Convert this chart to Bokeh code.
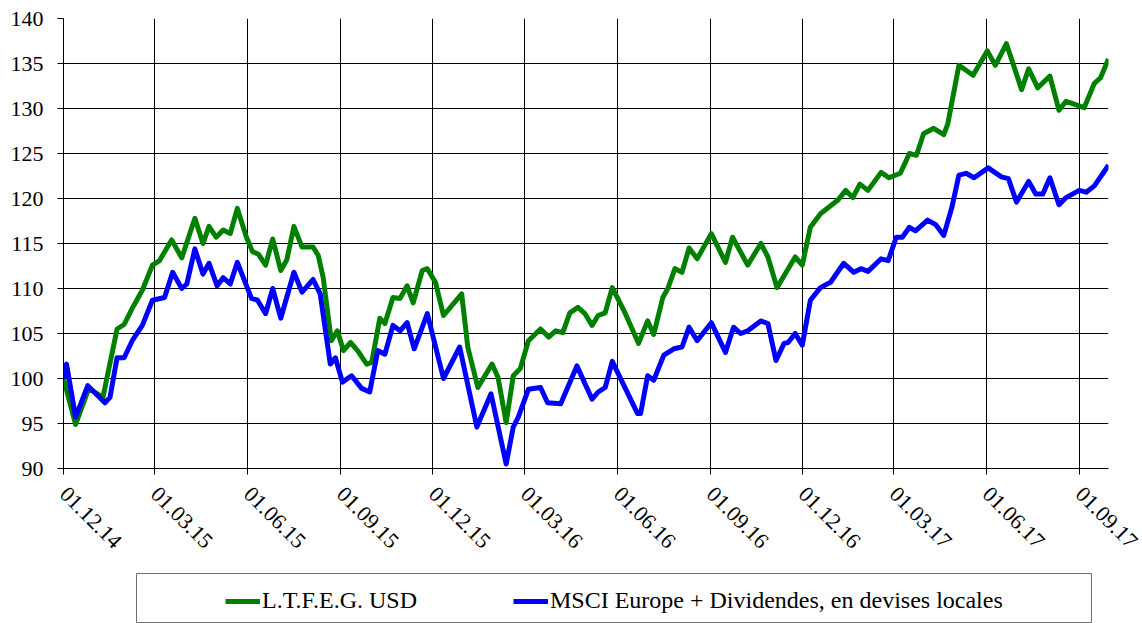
import math
import pandas as pd
from bokeh.plotting import figure
from bokeh.layouts import column, row
from bokeh.models import (FixedTicker, DatetimeTickFormatter, Legend, LegendItem, Range1d, Spacer)
from bokeh.embed import file_html
from bokeh.resources import INLINE

start = pd.Timestamp("2014-12-01")

ltfeg_days = [0, 12, 25, 39, 53, 60, 68, 78, 88, 95, 107, 117, 130, 138, 144, 151, 158, 165, 172, 181,
              187, 193, 200, 207, 215, 221, 228, 236, 247, 252, 257, 265, 271, 277, 284, 291, 300, 305, 313, 318,
              326, 333, 340, 346, 355, 360, 368, 376, 394, 400, 410, 424, 430, 438, 445, 452, 460, 472, 480, 487,
              494, 501, 509, 516, 523, 529, 536, 543, 556, 569, 578, 584, 593, 598, 605, 612, 619, 627, 641, 655,
              662, 677, 690, 697, 706, 724, 731, 739, 749, 766, 774, 781, 788, 796, 809, 817, 828, 837, 844, 851,
              861, 871, 875, 886, 900, 914, 922, 933, 948, 955, 964, 976, 985, 992, 1002, 1010, 1020, 1026, 1034]
ltfeg_values = [100.0, 94.9, 98.9, 97.9, 105.5, 106.0, 107.8, 109.8, 112.6, 113.1,
                115.4, 113.4, 117.8, 115.0, 116.9, 115.7, 116.5, 116.1, 118.9, 115.7,
                114.1, 113.8, 112.6, 115.5, 112.0, 113.2, 116.9, 114.6, 114.6, 113.7,
                111.2, 104.2, 105.3, 103.1, 104.0, 103.1, 101.6, 101.8, 106.7, 106.1,
                109.0, 108.9, 110.3, 108.4, 112.0, 112.2, 110.7, 107.0, 109.4, 103.5,
                99.0, 101.6, 100.1, 95.1, 100.3, 101.1, 104.2, 105.5, 104.6, 105.3,
                105.1, 107.3, 107.9, 107.2, 105.9, 107.0, 107.3, 110.1, 107.2, 103.9,
                106.4, 104.9, 109.0, 110.0, 112.2, 111.8, 114.5, 113.3, 116.1, 112.9,
                115.7, 112.6, 115.0, 113.5, 110.1, 113.5, 112.6, 116.8, 118.3, 119.8,
                120.9, 120.1, 121.6, 120.9, 122.9, 122.3, 122.8, 125.0, 124.8, 127.2,
                127.8, 127.1, 128.3, 134.8, 133.7, 136.4, 134.8, 137.2, 132.1, 134.4,
                132.3, 133.6, 129.8, 130.8, 130.4, 130.1, 132.8, 133.4, 135.5]

msci_days = [0, 3, 12, 24, 41, 46, 53, 60, 68, 78, 88, 100, 108, 117, 122, 130, 138, 144, 152, 158,
             165, 172, 186, 192, 200, 207, 215, 228, 236, 247, 254, 264, 269, 276, 285, 295, 303, 311, 318, 326,
             333, 340, 347, 360, 376, 392, 409, 423, 438, 445, 450, 460, 472, 479, 492, 508, 523, 529, 536, 543,
             568, 571, 578, 584, 594, 604, 612, 619, 627, 641, 655, 663, 670, 677, 690, 697, 705, 713, 717, 724,
             731, 739, 749, 759, 772, 782, 789, 796, 809, 816, 824, 830, 837, 843, 855, 863, 871, 879, 886, 893,
             901, 915, 928, 935, 943, 955, 962, 969, 976, 985, 992, 1005, 1012, 1020, 1034]
msci_values = [100.0, 101.6, 95.7, 99.2, 97.3, 97.9, 102.3, 102.3, 104.2, 105.9,
               108.7, 109.0, 111.8, 110.0, 110.5, 114.4, 111.6, 112.8, 110.3, 111.2,
               110.5, 112.9, 108.9, 108.7, 107.2, 110.0, 106.7, 111.8, 109.6, 111.0,
               109.4, 101.6, 102.3, 99.6, 100.3, 98.9, 98.5, 103.1, 102.7, 105.9,
               105.3, 106.2, 103.3, 107.2, 100.0, 103.5, 94.6, 98.3, 90.5, 94.6,
               95.7, 98.8, 99.0, 97.3, 97.2, 101.4, 97.7, 98.5, 99.0, 101.9,
               96.1, 96.1, 100.3, 99.8, 102.6, 103.3, 103.5, 105.7, 104.2, 106.2,
               102.9, 105.7, 105.0, 105.3, 106.4, 106.1, 102.0, 103.9, 104.0, 105.0,
               103.7, 108.7, 110.1, 110.7, 112.8, 111.8, 112.2, 111.9, 113.3, 113.1,
               115.7, 115.7, 116.8, 116.4, 117.6, 117.1, 115.9, 119.0, 122.6, 122.8,
               122.3, 123.4, 122.4, 122.2, 119.6, 121.9, 120.5, 120.5, 122.3, 119.3,
               120.1, 120.9, 120.7, 121.4, 123.7]

tick_labels = ["01.12.14", "01.03.15", "01.06.15", "01.09.15", "01.12.15", "01.03.16",
               "01.06.16", "01.09.16", "01.12.16", "01.03.17", "01.06.17", "01.09.17"]
y_ticks = [90, 95, 100, 105, 110, 115, 120, 125, 130, 135, 140]

series_names = ["L.T.F.E.G. USD", "MSCI Europe + Dividendes, en devises locales"]
series_colors = ["#008000", "#0000FF"]

ltfeg_dates = start + pd.to_timedelta(ltfeg_days, unit="D")
msci_dates = start + pd.to_timedelta(msci_days, unit="D")
tick_dates = pd.to_datetime(tick_labels, format="%d.%m.%y")
tick_ms = [int(t.value // 10**6) for t in tick_dates]

FONT = "'Liberation Serif', serif"

# ---------------- main chart ----------------
p = figure(width=1142, height=573, x_axis_type="datetime",
           x_range=Range1d(ltfeg_dates[0], ltfeg_dates[-1]), y_range=Range1d(90, 140),
           output_backend="svg", toolbar_location=None,
           min_border_left=63, min_border_right=34, min_border_top=18, min_border_bottom=105)
p.outline_line_color = None
p.background_fill_color = "white"
p.border_fill_color = "white"

xt = FixedTicker(ticks=tick_ms)
yt = FixedTicker(ticks=y_ticks)
p.xaxis.ticker = xt
p.yaxis.ticker = yt
p.xgrid.ticker = xt
p.ygrid.ticker = yt
for g in (p.xgrid, p.ygrid):
    g.grid_line_color = "black"
    g.grid_line_width = 1

fmt = "%d.%m.%y"
p.xaxis.formatter = DatetimeTickFormatter(days=fmt, months=fmt, years=fmt, hours=fmt,
                                          hourmin=fmt, minutes=fmt, minsec=fmt, seconds=fmt)
p.xaxis.major_label_orientation = -math.pi / 4

for ax in (p.xaxis, p.yaxis):
    ax.axis_line_color = "black"
    ax.major_tick_line_color = "black"
    ax.major_tick_in = 0
    ax.major_tick_out = 6
    ax.minor_tick_line_color = None
    ax.major_label_text_font = FONT
    ax.major_label_text_font_size = "22px"
    ax.major_label_text_color = "black"
p.yaxis.major_label_standoff = 14
p.xaxis.major_label_standoff = 16

p.line(ltfeg_dates, ltfeg_values, line_color=series_colors[0], line_width=5, line_join="round")
p.line(msci_dates, msci_values, line_color=series_colors[1], line_width=5, line_join="round")

# ---------------- legend box (separate panel below the chart) ----------------
lg = figure(width=956, height=50, x_range=Range1d(0, 1), y_range=Range1d(0, 1),
            output_backend="svg", toolbar_location=None,
            x_axis_location=None, y_axis_location=None,
            min_border=0, min_border_left=0, min_border_right=0, min_border_top=0, min_border_bottom=0)
lg.xgrid.visible = False
lg.ygrid.visible = False
lg.outline_line_color = "#707070"
lg.outline_line_width = 1
lg.background_fill_color = "white"
lg.border_fill_color = "white"

# same series, drawn outside this panel's view; they only supply the legend samples
lr_g = lg.line(ltfeg_dates, ltfeg_values, line_color=series_colors[0], line_width=5)
lr_b = lg.line(msci_dates, msci_values, line_color=series_colors[1], line_width=5)

legend = Legend(items=[LegendItem(label=series_names[0], renderers=[lr_g]),
                       LegendItem(label=series_names[1], renderers=[lr_b])],
                orientation="horizontal", location=(89, 9), padding=0, spacing=0,
                glyph_width=35, glyph_height=20, label_standoff=2, label_width=251,
                border_line_color=None, background_fill_alpha=0,
                label_text_font=FONT, label_text_font_size="24px", label_text_color="black",
                margin=0)
lg.add_layout(legend)

layout = column(p, row(Spacer(width=136, height=50), lg, spacing=0), spacing=0)

open("out.html", "w").write(file_html(layout, INLINE))
